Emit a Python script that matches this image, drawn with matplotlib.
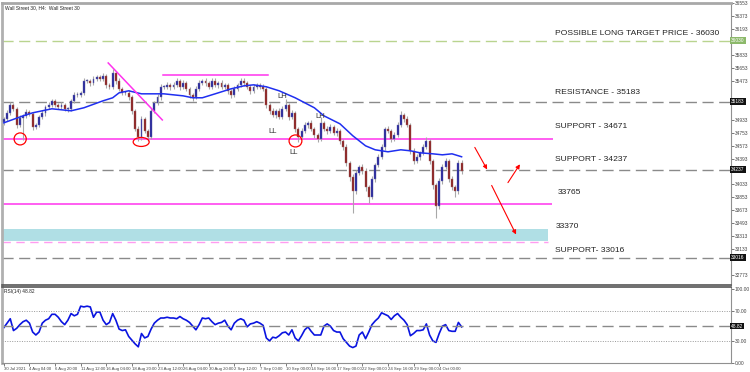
import numpy as np
import matplotlib.pyplot as plt
from matplotlib.patches import Rectangle, Ellipse

plt.rcParams['font.family'] = ['Liberation Sans', 'DejaVu Sans']

# H4 bars (closes)
closes = [34946, 35029, 35140, 35085, 34862, 34960, 34987, 35043, 35015, 34835,
          34862, 34974, 35029, 35113, 35140, 35196, 35140, 35113, 35140, 35085,
          35085, 35196, 35279, 35279, 35307, 35474, 35474, 35446, 35502, 35530,
          35502, 35543, 35418, 35391, 35585, 35474, 35363, 35307, 35307, 35252,
          35057, 34807, 34696, 34946, 34779, 34696, 35057, 35168, 35252, 35391,
          35391, 35418, 35391, 35418, 35474, 35391, 35446, 35363, 35279, 35252,
          35363, 35446, 35474, 35446, 35391, 35474, 35418, 35446, 35391, 35418,
          35335, 35279, 35363, 35418, 35474, 35446, 35391, 35335, 35391, 35418,
          35391, 35363, 35140, 35057, 35001, 35057, 34974, 35085, 35140, 34974,
          35029, 34807, 34696, 34779, 34862, 34890, 34807, 34723, 34668, 34890,
          34807, 34779, 34835, 34751, 34779, 34640, 34557, 34334, 34140, 33945,
          34195, 34279, 34223, 34001, 33862, 34112, 34306, 34418, 34557, 34807,
          34779, 34668, 34723, 34862, 35001, 34946, 34862, 34501, 34362, 34418,
          34473, 34557, 34640, 34362, 34028, 33736, 34084, 34279, 34362, 34112,
          34001, 33945, 34334, 34223]
first_open = 34900
upper_wick = [30, 40, 35, 25, 30, 40, 30, 35, 25, 30,
              30, 25, 35, 30, 40, 30, 25, 30, 35, 30,
              25, 30, 35, 40, 30, 45, 30, 25, 35, 30,
              30, 40, 25, 30, 52, 30, 35, 25, 30, 35,
              30, 25, 40, 35, 30, 25, 35, 30, 40, 35,
              30, 45, 30, 35, 40, 30, 35, 25, 30, 30,
              35, 40, 30, 35, 30, 40, 35, 30, 45, 30,
              30, 25, 35, 30, 40, 35, 30, 25, 35, 30,
              30, 35, 25, 30, 35, 30, 40, 35, 84, 30,
              35, 30, 25, 35, 40, 30, 35, 25, 30, 84,
              30, 35, 40, 30, 35, 30, 25, 35, 30, 40,
              35, 30, 40, 35, 30, 45, 30, 35, 40, 30,
              35, 30, 40, 35, 56, 30, 35, 30, 40, 35,
              30, 35, 56, 30, 25, 30, 40, 35, 45, 30,
              35, 30, 40, 35]
lower_wick = [40, 30, 25, 35, 50, 30, 306, 30, 35, 45,
              35, 30, 25, 40, 30, 35, 30, 25, 30, 35,
              40, 30, 35, 30, 25, 35, 30, 40, 30, 25,
              35, 30, 40, 35, 30, 40, 30, 35, 30, 40,
              45, 35, 56, 40, 35, 56, 30, 35, 30, 40,
              35, 30, 40, 35, 30, 40, 35, 30, 40, 56,
              30, 35, 30, 40, 35, 30, 35, 40, 30, 35,
              40, 45, 30, 35, 30, 40, 35, 40, 30, 35,
              35, 30, 40, 45, 35, 40, 35, 30, 35, 40,
              35, 45, 70, 35, 30, 40, 35, 40, 45, 30,
              35, 40, 30, 35, 40, 45, 40, 50, 60, 306,
              40, 35, 45, 60, 84, 35, 40, 30, 35, 40,
              35, 40, 35, 30, 35, 40, 35, 45, 40, 35,
              40, 35, 30, 45, 60, 166, 50, 40, 35, 45,
              50, 84, 40, 50]

# moving average (blue line), bar index -> value
ma_idx = [0, 6, 9, 15, 21, 25, 31, 34, 36, 39, 43, 50, 56, 59, 62, 66, 71, 75,
          78, 82, 86, 91, 97, 100, 105, 109, 113, 116, 120, 124, 127, 130, 134,
          137, 140, 143]
ma_vals = [34890, 34987, 35029, 35085, 35057, 35099, 35196, 35238, 35307, 35335,
           35293, 35293, 35265, 35238, 35238, 35293, 35363, 35404, 35418, 35391,
           35335, 35238, 35099, 34987, 34876, 34710, 34570, 34515, 34487, 34515,
           34501, 34473, 34459, 34445, 34459, 34418]

rsi = [48, 54, 60, 44, 47, 52, 56, 58, 54, 42,
       38, 42, 54, 58, 60, 66, 66, 62, 56, 52,
       58, 67, 64, 66, 77, 76, 77, 76, 62, 69,
       69, 58, 52, 55, 67, 58, 46, 44, 45, 36,
       31, 26, 22, 40, 34, 36, 46, 54, 58, 61,
       61, 62, 61, 61, 60, 63, 60, 58, 55, 50,
       45, 52, 61, 60, 61, 56, 52, 54, 55, 58,
       50, 45, 54, 58, 60, 58, 49, 53, 54, 56,
       54, 51, 34, 30, 35, 34, 37, 41, 42, 38,
       45, 34, 30, 37, 45, 49, 43, 38, 38, 38,
       50, 53, 50, 44, 42, 42, 33, 28, 23, 21,
       23, 38, 42, 33, 42, 52, 57, 61, 68, 66,
       64, 59, 64, 67, 62, 58, 52, 37, 40, 44,
       44, 45, 53, 38, 30, 28, 40, 50, 52, 44,
       43, 43, 55, 49]

date_labels = ["30 Jul 2021", "4 Aug 04:00", "6 Aug 20:00", "11 Aug 12:00",
               "16 Aug 04:00", "18 Aug 20:00", "23 Aug 12:00", "26 Aug 04:00",
               "30 Aug 20:00", "2 Sep 12:00", "7 Sep 00:00", "10 Sep 00:00",
               "14 Sep 16:00", "17 Sep 00:00", "22 Sep 00:00", "24 Sep 16:00",
               "29 Sep 00:00", "4 Oct 00:00"]
label_every = 8

target = 36030
resistance = 35183
support1 = 34671
support2 = 34237
level_33765 = 33765
band_lo, band_hi = 33250, 33420
band_dash = 33234
support3 = 33016
rsi_last = "48.82"

# drawn analysis objects (bar index, price)
trend_x = [32.6, 49.5]
trend_y = [35722, 34930]
flat_x = [49.8, 82.6]
flat_y = 35555
circles = [(5.1, 34666, 3.8, 167), (42.9, 34624, 5.0, 125), (91.1, 34638, 4.0, 167)]
marks = [("LL", 83.9, 34763), ("LL", 90.4, 34471), ("LH", 87.0, 35249), ("LH", 98.9, 34971)]
arrows = [((146.7, 34582), (151.4, 34207)),
          ((157.0, 34026), (161.7, 34346)),
          ((152.0, 34054), (160.4, 33303))]
line_end = 170.1     # bar index where the drawn support lines / band stop

n = len(closes)
idx = np.arange(n)
opens = np.array([first_open] + closes[:-1])
closes_a = np.array(closes)
highs = np.maximum(opens, closes_a) + np.array(upper_wick)
lows = np.minimum(opens, closes_a) - np.array(lower_wick)

fig = plt.figure(figsize=(7.5, 3.72), dpi=100)
ax = fig.add_axes([0.003, 0.234, 0.971, 0.758])
ax2 = fig.add_axes([0.003, 0.024, 0.971, 0.204])

xmax = -0.5 + 728 / 3.2
for a in (ax, ax2):
    a.set_xlim(-0.5, xmax)

ax.set_ylim(32636, 36556)

# levels
grey = '#8a8a8a'
ax.axhline(target, color='#b9d48f', lw=1, dashes=(8, 4))
ax.axhline(resistance, color=grey, lw=1, dashes=(8, 4))
ax.axhline(support2, color=grey, lw=1, dashes=(8, 4))
ax.axhline(support3, color=grey, lw=1, dashes=(8, 4))
ax.hlines(support1, -0.5, line_end + 1.5, color='#ff33ee', lw=1.1)
ax.hlines(level_33765, -0.5, line_end + 1, color='#ff33ee', lw=1.1)
ax.add_patch(Rectangle((-0.5, band_lo), line_end + 0.5, band_hi - band_lo, color='#b0dfe5', lw=0))
ax.hlines(band_dash, -0.5, line_end, color='#ff9cf0', lw=1, linestyles=(0, (6, 4)))

# candles
up = closes_a >= opens
ax.vlines(idx, lows, highs, color='#a8a8a8', lw=0.8, zorder=2)
body_bot = np.minimum(opens, closes_a)
body_h = np.maximum(np.abs(closes_a - opens), 8)
ax.bar(idx[up], body_h[up], bottom=body_bot[up], width=0.6, color='#23239a',
       edgecolor='#7070b0', lw=0.3, zorder=3)
ax.bar(idx[~up], body_h[~up], bottom=body_bot[~up], width=0.6, color='#8b1c1c',
       edgecolor='#a07070', lw=0.3, zorder=3)

ax.plot(ma_idx, ma_vals, color='#1f2ff0', lw=1.1, zorder=4)

# analysis drawings
ax.plot(trend_x, trend_y, color='#ff33ee', lw=1.1, zorder=5)
ax.plot(flat_x, [flat_y, flat_y], color='#ff33ee', lw=1.1, zorder=5)
for cx, cy, w, h in circles:
    ax.add_patch(Ellipse((cx, cy), w, h, fill=False, edgecolor='red', lw=0.9, zorder=6))
for t, mx, my in marks:
    ax.text(mx, my, t, fontsize=5.5, color='#333333', ha='center', va='center', zorder=6)
for (x0, y0), (x1, y1) in arrows:
    ax.annotate('', xy=(x1, y1), xytext=(x0, y0),
                arrowprops=dict(arrowstyle='-|>', color='red', lw=0.8, mutation_scale=6))

txt = dict(fontsize=6.1, color='#222222', va='center', ha='left')
xt = (555 - 2) / 728
tr = ax.get_yaxis_transform()
ax.text(xt, 36125, "POSSIBLE LONG TARGET PRICE - 36030", transform=tr, **txt)
ax.text(xt, 35305, "RESISTANCE - 35183", transform=tr, **txt)
ax.text(xt, 34832, "SUPPORT - 34671", transform=tr, **txt)
ax.text(xt, 34374, "SUPPORT - 34237", transform=tr, **txt)
ax.text(xt + 0.003, 33915, "33765", transform=tr, **txt)
ax.text(xt, 33442, "33370", transform=tr, **txt)
ax.text(xt, 33109, "SUPPORT- 33016", transform=tr, **txt)

ax.text(0.004, 0.992, "Wall Street 30, H4:  Wall Street 30", transform=ax.transAxes,
        fontsize=3.5, va='top', ha='left', color='#222222')

# right price scale, ticks hidden where a level box sits
box_levels = [(target, '#8cb96a'), (resistance, '#111111'), (support2, '#111111'), (support3, '#111111')]
ticks = [t for t in range(32773, 36554, 180)
         if all(abs(t - lv) > 110 for lv, _ in box_levels)]
ax.yaxis.tick_right()
ax.set_yticks(ticks)
ax.tick_params(axis='y', labelsize=3.5, length=2, width=0.5, pad=1, colors='#444444')
ax.set_xticks([])
for lvl, fc in box_levels:
    ax.text(1.001, lvl, str(lvl), transform=tr, fontsize=3.5, color='white',
            va='center', ha='left', clip_on=False,
            bbox=dict(facecolor=fc, edgecolor='none', pad=0.6), zorder=10)

# RSI panel
ax2.set_ylim(0, 102.7)
ax2.plot(idx, rsi, color='#0a14e0', lw=1.2)
ax2.axhline(70, color='#999999', lw=0.7, ls=(0, (1, 1.5)))
ax2.axhline(30, color='#999999', lw=0.7, ls=(0, (1, 1.5)))
ax2.axhline(50, color=grey, lw=1, dashes=(8, 4))
ax2.yaxis.tick_right()
ax2.set_yticks([0, 30, 70, 100])
ax2.set_yticklabels(["0.00", "30.00", "70.00", "100.00"])
ax2.tick_params(axis='y', labelsize=3.5, length=2, width=0.5, pad=1, colors='#444444')
ax2.text(1.001, 50, rsi_last, transform=ax2.get_yaxis_transform(), fontsize=3.5, color='white',
         va='center', ha='left', clip_on=False, bbox=dict(facecolor='#111111', edgecolor='none', pad=0.6))
ax2.text(0.003, 0.97, "RSI(14) " + rsi_last, transform=ax2.transAxes, fontsize=3.5,
         va='top', ha='left', color='#222222')

ax2.set_xticks(np.arange(0, n, label_every))
ax2.set_xticklabels(date_labels, ha='left')
ax2.tick_params(axis='x', labelsize=3.1, length=2, width=0.5, pad=1, colors='#444444')

for a in (ax, ax2):
    a.spines['left'].set_color('#b0b0b0')
    a.spines['left'].set_linewidth(2)
    a.spines['right'].set_color('#909090')
    a.spines['right'].set_linewidth(0.8)
ax.spines['top'].set_color('#a8a8a8')
ax.spines['top'].set_linewidth(2)
ax.spines['bottom'].set_color('#555555')
ax.spines['bottom'].set_linewidth(1.2)
ax2.spines['top'].set_color('#555555')
ax2.spines['top'].set_linewidth(1.2)
ax2.spines['bottom'].set_color('#909090')
ax2.spines['bottom'].set_linewidth(0.8)

fig.savefig('out.png', dpi=100)
